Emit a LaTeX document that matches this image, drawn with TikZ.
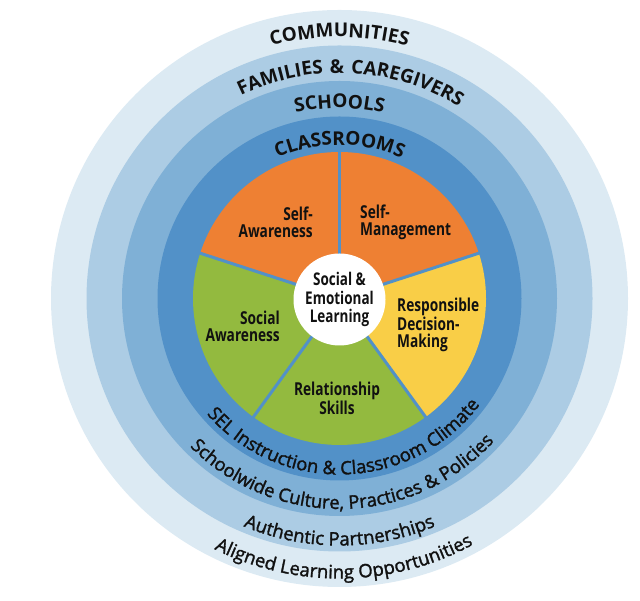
\documentclass[tikz,border=0pt]{standalone}
\usepackage{fontspec}
\setmainfont{Open Sans}
\newfontfamily\capfont[LetterSpace=9]{Open Sans}
\newfontfamily\semifont[FakeBold=1.6]{Open Sans}
\newfontfamily\condfont[FakeStretch=0.77]{Open Sans}
\usetikzlibrary{decorations.text}
\definecolor{ringA}{HTML}{DCEAF3}
\definecolor{ringB}{HTML}{ACCCE4}
\definecolor{ringC}{HTML}{7FB0D6}
\definecolor{ringD}{HTML}{5291C8}
\definecolor{selorange}{HTML}{EE8033}
\definecolor{selyellow}{HTML}{F9CE47}
\definecolor{selgreen}{HTML}{93BA3F}
\definecolor{txt}{HTML}{111111}
\newcommand\captxt{\capfont\bfseries\fontsize{19}{23}\selectfont}
\newcommand\lowtxt{\semifont\fontsize{18.5}{22}\selectfont}
\begin{document}
\begin{tikzpicture}[x=1pt,y=1pt,
  ringtext/.style={decorate, decoration={text along path, text align=center, text color=txt, text={#1}}},
  seplabel/.style={font=\condfont\bfseries\fontsize{17.8}{17}\selectfont, text=txt, inner sep=0pt},
  sepline/.style={draw=ringD, line width=3pt}]
\useasboundingbox (0,0) rectangle (640,601);
\begin{scope}[shift={(339.5,302.5)}]
\coordinate (C) at (0,0);
\fill[ringA] (C) circle (288.5);
\fill[ringB] (C) circle (253);
\fill[ringC] (C) circle (217.5);
\fill[ringD] (C) circle (182);
% pie slices
\fill[selorange] (C) -- (90:146.5) arc[start angle=90,end angle=162,radius=146.5] -- cycle;
\fill[selorange] (C) -- (18:146.5) arc[start angle=18,end angle=90,radius=146.5] -- cycle;
\fill[selyellow] (C) -- (-54:146.5) arc[start angle=-54,end angle=18,radius=146.5] -- cycle;
\fill[selgreen] (C) -- (234:146.5) arc[start angle=234,end angle=306,radius=146.5] -- cycle;
\fill[selgreen] (C) -- (162:146.5) arc[start angle=162,end angle=234,radius=146.5] -- cycle;
\foreach \a in {18,90,162,234,306} \draw[sepline] (C) -- (\a:147);
\node[circle, fill=white, minimum size=92pt, inner sep=0pt, align=center, font=\condfont\bfseries\fontsize{17.5}{18.5}\selectfont, text=txt] (core) at (0,-1) {Social \&\\Emotional\\Learning};
% slice labels
\node[seplabel, anchor=east, align=right] (selfaw) at (-26.5,76.5) {Self-\\Awareness};
\node[seplabel, anchor=west, align=left] (selfman) at (20.5,76.5) {Self-\\Management};
\node[seplabel, anchor=west, align=left] (resp) at (57.5,-26.5) {Responsible\\Decision-\\Making};
\node[seplabel, align=center] (rel) at (-2.5,-99.5) {Relationship\\Skills};
\node[seplabel, anchor=east, align=right] (socaw) at (-59.5,-27.5) {Social\\Awareness};
% ring titles (top)
\path[ringtext={|\captxt|COMMUNITIES}] (180:261.5) arc[start angle=180,end angle=0,radius=261.5];
\path[ringtext={|\captxt|FAMILIES {\&} CAREGIVERS}] (177:225.5) arc[start angle=177,end angle=-3,radius=225.5];
\path[ringtext={|\captxt|SCHOOLS}] (180:190.5) arc[start angle=180,end angle=0,radius=190.5];
\path[ringtext={|\captxt|CLASSROOMS}] (180:153.5) arc[start angle=180,end angle=0,radius=153.5];
% ring subtitles (bottom)
\path[ringtext={|\lowtxt|SEL Instruction {\&} Classroom Climate}] (182:176) arc[start angle=182,end angle=362,radius=176];
\path[ringtext={|\lowtxt|Schoolwide Culture, Practices {\&} Policies}] (181:210.5) arc[start angle=181,end angle=361,radius=210.5];
\path[ringtext={|\lowtxt|Authentic Partnerships}] (180:247) arc[start angle=180,end angle=360,radius=247];
\path[ringtext={|\lowtxt|Aligned Learning Opportunities}] (181:280) arc[start angle=181,end angle=361,radius=280];
\end{scope}
\end{tikzpicture}
\end{document}
